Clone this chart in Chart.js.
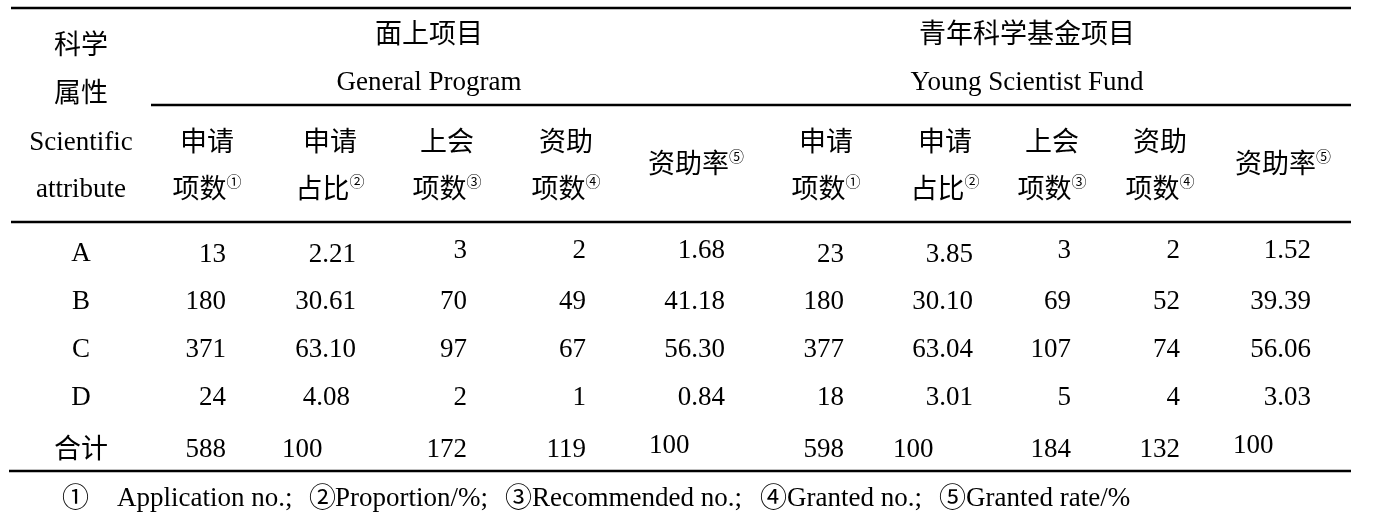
<!DOCTYPE html>
<html><head><meta charset="utf-8">
<script src="https://cdn.jsdelivr.net/npm/chart.js@4.4.1/dist/chart.umd.min.js"></script>
<style>html,body{margin:0;padding:0;background:#fff;}#wrap{width:1378px;height:517px;}</style>
</head><body><div id="wrap"><canvas id="c" width="1378" height="517"></canvas></div>
<script>
// ---------- DATA ----------
const categories = ['A', 'B', 'C', 'D', '合计'];
const generalApplications = [13, 180, 371, 24, 588];
const generalProportion   = [2.21, 30.61, 63.10, 4.08, 100];
const generalRecommended  = [3, 70, 97, 2, 172];
const generalGranted      = [2, 49, 67, 1, 119];
const generalRate         = [1.68, 41.18, 56.30, 0.84, 100];
const youngApplications   = [23, 180, 377, 18, 598];
const youngProportion     = [3.85, 30.10, 63.04, 3.01, 100];
const youngRecommended    = [3, 69, 107, 5, 184];
const youngGranted        = [2, 52, 74, 4, 132];
const youngRate           = [1.52, 39.39, 56.06, 3.03, 100];

const attributeHeader = ['科学', '属性', 'Scientific', 'attribute'];
const groupHeaders = [['面上项目', 'General Program'], ['青年科学基金项目', 'Young Scientist Fund']];
const columnHeaders = [['申请', '项数', '①'], ['申请', '占比', '②'], ['上会', '项数', '③'], ['资助', '项数', '④'], ['资助率', '', '⑤']];
const footnotes = [['①', 'Application no.;'], ['②', 'Proportion/%;'], ['③', 'Recommended no.;'], ['④', 'Granted no.;'], ['⑤', 'Granted rate/%']];

const columns = [
  {values: generalApplications, pct: false},
  {values: generalProportion, pct: true},
  {values: generalRecommended, pct: false},
  {values: generalGranted, pct: false},
  {values: generalRate, pct: true},
  {values: youngApplications, pct: false},
  {values: youngProportion, pct: true},
  {values: youngRecommended, pct: false},
  {values: youngGranted, pct: false},
  {values: youngRate, pct: true}
];

// ---------- LAYOUT (positions in scale units = px) ----------
const W = 1378, H = 517;
const RULES = [{y: 8, x0: 11, x1: 1351}, {y: 105, x0: 151, x1: 1351}, {y: 222, x0: 11, x1: 1351}, {y: 471, x0: 9, x1: 1351}];
const ROW_Y = [252, 300, 348, 396, 448];
const ATTR_X = 81;
const COL_RIGHT = [226, 356, 467, 586, 725, 844, 973, 1071, 1180, 1311];
const HEAD_X = [207, 330, 447, 566, 696, 826, 945, 1052, 1160, 1283];
const GROUP_X = [429, 1027];
const GROUP_Y = [33, 81];
const ATTR_HEAD_Y = [44, 92, 141, 188];
const SUB_Y = [141, 188];
const RATE_HEAD_Y = 163;
const TOTAL_PCT_LEFT = {1: 282, 4: 649, 6: 893, 9: 1233};
const ROW_A_DY = [1, 1, -3, -3, -3, 1, 1, -3, -3, -3];
const TOTAL_DY = {4: -4, 9: -4};
const FOOT_Y = 497;
const FOOT_X = [[62, 117], [309, 335], [505, 532], [760, 787], [939, 966]];
const FS = 27, SUP = 15;
const FONT = '"Liberation Serif","Noto Sans CJK SC",serif';
const CJK_RE = /[\u2460-\u24ff\u3000-\u9fff]/;

function fmt(v, pct) { return (pct && !Number.isInteger(v)) ? v.toFixed(2) : String(v); }

const datasets = [];
datasets.push({
  label: 'attr', texts: categories, align: 'center',
  data: categories.map((c, i) => ({x: ATTR_X, y: ROW_Y[i]})),
  pointRadius: 0, showLine: false
});
columns.forEach((col, ci) => {
  datasets.push({
    label: 'col' + ci,
    texts: col.values.map(v => fmt(v, col.pct)),
    align: col.values.map((v, ri) => (ri === 4 && TOTAL_PCT_LEFT[ci] !== undefined) ? 'left' : 'right'),
    data: col.values.map((v, ri) => {
      let x = COL_RIGHT[ci], y = ROW_Y[ri];
      if (ri === 0) y += ROW_A_DY[ci];
      if (ri === 4 && TOTAL_PCT_LEFT[ci] !== undefined) { x = TOTAL_PCT_LEFT[ci]; y += (TOTAL_DY[ci] || 0); }
      if (ri === 3 && ci === 1) x -= 6;
      return {x, y};
    }),
    pointRadius: 0, showLine: false
  });
});

const tablePlugin = {
  id: 'tablePlugin',
  afterDatasetsDraw(chart) {
    const ctx = chart.ctx, xs = chart.scales.x, ys = chart.scales.y;
    const px = v => xs.getPixelForValue(v), py = v => ys.getPixelForValue(v);
    const put = (s, x, y) => ctx.fillText(s, x, y + (CJK_RE.test(s) ? 3 : 2));
    ctx.save();
    ctx.fillStyle = '#000';
    ctx.strokeStyle = '#000';
    ctx.textBaseline = 'middle';
    ctx.lineWidth = 2.5;
    RULES.forEach(r => { ctx.beginPath(); ctx.moveTo(px(r.x0), py(r.y)); ctx.lineTo(px(r.x1), py(r.y)); ctx.stroke(); });
    ctx.font = FS + 'px ' + FONT;
    chart.data.datasets.forEach((ds, di) => {
      const meta = chart.getDatasetMeta(di);
      meta.data.forEach((el, i) => {
        ctx.textAlign = Array.isArray(ds.align) ? ds.align[i] : ds.align;
        put(ds.texts[i], el.x, el.y);
      });
    });
    ctx.textAlign = 'center';
    attributeHeader.forEach((t, i) => put(t, px(ATTR_X), py(ATTR_HEAD_Y[i])));
    groupHeaders.forEach((g, gi) => g.forEach((t, li) => put(t, px(GROUP_X[gi]), py(GROUP_Y[li]))));
    function supText(main, sup, cx, cy) {
      ctx.font = FS + 'px ' + FONT; const wm = ctx.measureText(main).width;
      ctx.font = SUP + 'px ' + FONT; const ws = ctx.measureText(sup).width;
      const x0 = cx - (wm + ws) / 2;
      ctx.textAlign = 'left';
      ctx.font = FS + 'px ' + FONT; put(main, x0, cy);
      ctx.font = SUP + 'px ' + FONT; put(sup, x0 + wm, cy - 8);
    }
    HEAD_X.forEach((hx, ci) => {
      const h = columnHeaders[ci % 5];
      if (h[1] === '') {
        supText(h[0], h[2], px(hx), py(RATE_HEAD_Y));
      } else {
        ctx.font = FS + 'px ' + FONT; ctx.textAlign = 'center';
        put(h[0], px(hx), py(SUB_Y[0]));
        supText(h[1], h[2], px(hx), py(SUB_Y[1]));
      }
    });
    ctx.font = FS + 'px ' + FONT; ctx.textAlign = 'left';
    footnotes.forEach((f, i) => {
      put(f[0], px(FOOT_X[i][0]), py(FOOT_Y));
      put(f[1], px(FOOT_X[i][1]), py(FOOT_Y));
    });
    ctx.restore();
  }
};

new Chart(document.getElementById('c'), {
  type: 'scatter',
  data: {datasets},
  options: {
    responsive: false, devicePixelRatio: 1, animation: false, events: [],
    layout: {padding: 0},
    plugins: {legend: {display: false}, tooltip: {enabled: false}},
    scales: {
      x: {type: 'linear', min: 0, max: W, display: false},
      y: {type: 'linear', min: 0, max: H, reverse: true, display: false}
    }
  },
  plugins: [tablePlugin]
});
</script></body></html>
